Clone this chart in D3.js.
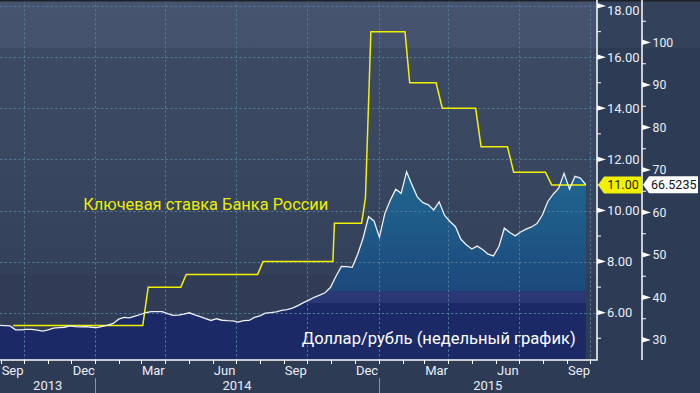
<!DOCTYPE html>
<html><head><meta charset="utf-8">
<script src="https://cdn.jsdelivr.net/npm/d3@7"></script>
<style>html,body{margin:0;padding:0;background:#2e3b55;} svg{display:block;}</style>
</head><body>
<svg id="c" width="700" height="393"></svg>
<script>
// ---------- data ----------
const firstWeek = "2013-08-30"; // weekly (Friday) observations
const usdRub = [
  33.45,33.4,33.3,32.4,32.4,32.5,32.5,32.3,32.1,32.4,
  32.8,32.9,33.0,33.3,33.15,33.1,33.15,33.0,32.9,33.2,
  33.5,33.9,34.9,35.3,35.2,35.6,36.0,36.45,36.7,36.7,
  36.7,36.2,35.8,35.85,36.1,36.4,35.9,35.5,35.05,34.6,
  35.0,34.65,34.55,34.5,34.2,34.55,34.6,35.3,35.7,36.3,
  36.45,36.6,36.95,37.15,37.5,38.1,38.8,39.4,40.05,40.55,
  41.1,42.4,45.0,47.3,47.25,47.1,50.2,54.0,59.0,58.0,
  54.2,59.8,62.9,65.45,64.5,69.6,66.5,63.6,62.3,61.8,
  60.6,62.5,59.3,57.9,56.65,53.7,52.4,51.4,52.1,51.3,
  50.2,49.8,52.0,56.3,55.3,54.5,55.4,56.1,56.6,57.4,
  59.4,62.6,64.3,65.7,69.2,65.5,68.5,68.1,66.5235
];
const rateDates = [
  "2013-09-17","2014-03-03","2014-03-10","2014-04-21","2014-04-28",
  "2014-07-29","2014-08-05","2014-11-03","2014-11-05","2014-12-10",
  "2014-12-15","2014-12-22","2015-02-04","2015-02-10","2015-03-16",
  "2015-03-24","2015-05-06","2015-05-13","2015-06-16","2015-06-24",
  "2015-08-04","2015-08-12","2015-09-25"
];
const rateValues = [
  5.5,5.5,7.0,7.0,7.5,
  7.5,8.0,8.0,9.5,9.5,
  10.5,17.0,17.0,15.0,15.0,
  14.0,14.0,12.5,12.5,11.5,
  11.5,11.0,11.0
];
const rateTicks = [6,8,10,12,14,16,18];
const rateMinorTicks = [5,7,9,11,13,15,17];
const usdTicks = [30,40,50,60,70,80,90,100];
const usdMinorTicks = [35,45,55,65,75,85,95,105];
const monthLabels = ["Sep","Dec","Mar","Jun","Sep","Dec","Mar","Jun","Sep"];
const yearLabels = ["2013","2014","2015"];
const lastRate = 11.00, lastRateText = "11.00";
const lastUsd = 66.5235, lastUsdText = "66.5235";
const rateTitle = "Ключевая ставка Банка России";
const usdTitle = "Доллар/рубль (недельный график)";

// ---------- layout ----------
const W = 700, H = 393;
const plotR = 597, plotB = 360, axis2X = 642;
const svg = d3.select("#c");
const parse = d3.utcParse("%Y-%m-%d");

const x = d3.scaleUtc()
  .domain([Date.UTC(2013,7,31), Date.UTC(2015,9,9,10)])
  .range([0, plotR]);
const yRate = d3.scaleLinear().domain([6,18]).range([312.7, 6.1]);
const yUsd = d3.scaleLinear().domain([30,100]).range([340, 42.5]);

const weeks = usdRub.map((v,i) => ({date: d3.utcDay.offset(parse(firstWeek), 7*i), v}));
const rates = rateDates.map((d,i) => ({date: parse(d), v: rateValues[i]}));

// ---------- defs ----------
const defs = svg.append("defs");
const bgGrad = defs.append("linearGradient").attr("id","bg")
  .attr("gradientUnits","userSpaceOnUse").attr("x1",0).attr("x2",0).attr("y1",0).attr("y2",plotB);
[[0,"#46546f"],[48,"#44526d"],[48,"#3d4a64"],[150,"#3a4761"],[230,"#36435c"],[275,"#34405a"],[275,"#313d57"],[360,"#303c56"]]
  .forEach(([o,c]) => bgGrad.append("stop").attr("offset", o/plotB).attr("stop-color", c));
const arGrad = defs.append("linearGradient").attr("id","ar")
  .attr("gradientUnits","userSpaceOnUse").attr("x1",0).attr("x2",0).attr("y1",0).attr("y2",plotB);
[[0,"#226d96"],[160,"#216892"],[200,"#1f608b"],[240,"#1e5786"],[260,"#1d5081"],[291,"#1d4a7c"],[291.5,"#2a3875"],[303,"#2a3875"],[303.5,"#1b2a66"],[360,"#1b2a66"]]
  .forEach(([o,c]) => arGrad.append("stop").attr("offset", o/plotB).attr("stop-color", c));

// ---------- backgrounds ----------
svg.append("rect").attr("width",W).attr("height",H).attr("fill","#2e3b55");
svg.append("rect").attr("x",plotR).attr("y",0).attr("width",W-plotR).attr("height",48).attr("fill","#34415b");
svg.append("rect").attr("x",0).attr("y",0).attr("width",plotR).attr("height",plotB).attr("fill","url(#bg)");

// area
svg.append("path").datum(weeks)
  .attr("d", d3.area().x(d => x(d.date)).y0(plotB).y1(d => yUsd(d.v)))
  .attr("fill","url(#ar)");

// gridlines
const grid = svg.append("g").attr("stroke","#4f7b98").attr("stroke-width",1).attr("stroke-dasharray","2.3,2.3");
rateTicks.forEach(t => grid.append("line").attr("x1",0).attr("x2",plotR)
  .attr("y1",Math.round(yRate(t))+0.5).attr("y2",Math.round(yRate(t))+0.5));
const months = d3.utcMonth.range(new Date(Date.UTC(2013,8,1)), new Date(Date.UTC(2015,9,2)));
const quarters = months.filter(m => m.getUTCMonth() % 3 === 0);
quarters.forEach(q => grid.append("line").attr("x1",Math.round(x(q))+0.5).attr("x2",Math.round(x(q))+0.5)
  .attr("y1",0).attr("y2",plotB));

// lines
svg.append("path").datum(rates)
  .attr("d", d3.line().x(d => x(d.date)).y(d => yRate(d.v)))
  .attr("fill","none").attr("stroke","#f2f200").attr("stroke-width",1.5);
svg.append("path").datum(weeks)
  .attr("d", d3.line().x(d => x(d.date)).y(d => yUsd(d.v)))
  .attr("fill","none").attr("stroke","#eef0f4").attr("stroke-width",1.3);

// top border
svg.append("rect").attr("x",0).attr("y",0).attr("width",W).attr("height",1.5).attr("fill","#1f2229");

// axes lines
const ax = svg.append("g").attr("stroke","#ffffff").attr("stroke-width",1.5);
ax.append("line").attr("x1",0).attr("x2",plotR+0.75).attr("y1",plotB).attr("y2",plotB);
ax.append("line").attr("x1",plotR).attr("x2",plotR).attr("y1",0).attr("y2",plotB);
ax.append("line").attr("x1",axis2X).attr("x2",axis2X).attr("y1",0).attr("y2",plotB);

// month ticks
months.forEach(m => ax.append("line").attr("x1",Math.round(x(m))+0.5).attr("x2",Math.round(x(m))+0.5)
  .attr("y1",plotB).attr("y2",plotB+4).attr("stroke-width",1));

// rate axis ticks
const font = "Roboto, 'Liberation Sans', sans-serif";
rateTicks.forEach(t => {
  const y = yRate(t);
  svg.append("path").attr("d", `M${plotR},${y-3}L${plotR+9},${y}L${plotR},${y+2.5}Z`).attr("fill","#ffffff");
  svg.append("text").attr("x",607).attr("y",Math.max(y,10)+4.6).text(t.toFixed(2))
    .attr("font-family",font).attr("font-size",13).attr("fill","#e9eef6");
});
rateMinorTicks.forEach(t => ax.append("line").attr("x1",plotR).attr("x2",plotR+4)
  .attr("y1",yRate(t)).attr("y2",yRate(t)).attr("stroke-width",1));

// usd axis ticks
usdTicks.forEach(t => {
  const y = yUsd(t);
  svg.append("path").attr("d", `M${axis2X},${y-3}L${axis2X+9},${y}L${axis2X},${y+2.5}Z`).attr("fill","#ffffff");
  svg.append("text").attr("x",652.5).attr("y",y+4.4).text(t)
    .attr("font-family",font).attr("font-size",12.3).attr("fill","#e9eef6");
});
usdMinorTicks.forEach(t => ax.append("line").attr("x1",axis2X).attr("x2",axis2X+4)
  .attr("y1",yUsd(t)).attr("y2",yUsd(t)).attr("stroke-width",1));

// month labels (right-aligned to next quarter boundary)
months.filter(m => m.getUTCMonth() % 3 === 2).forEach((m,i) => {
  const nxt = d3.utcMonth.offset(m,1);
  svg.append("text").attr("x", x(nxt)-0.5).attr("y",375).attr("text-anchor","end")
    .text(monthLabels[i]).attr("font-family",font).attr("font-size",13).attr("fill","#e9eef6");
});
// years
const yearStarts = [Date.UTC(2013,0,1),Date.UTC(2014,0,1),Date.UTC(2015,0,1),Date.UTC(2016,0,1)].map(d => new Date(d));
yearLabels.forEach((lab,i) => {
  const a = Math.max(0, x(yearStarts[i])), b = Math.min(plotR, x(yearStarts[i+1]));
  svg.append("text").attr("x",(a+b)/2).attr("y",390).attr("text-anchor","middle").text(lab)
    .attr("font-family",font).attr("font-size",13).attr("fill","#e9eef6");
  if (i > 0) svg.append("line").attr("x1",Math.round(a)+0.5).attr("x2",Math.round(a)+0.5)
    .attr("y1",378).attr("y2",H).attr("stroke","#8d929c").attr("stroke-width",1);
});

// last-value boxes
const yr = yRate(lastRate), yu = yUsd(lastUsd);
svg.append("path").attr("d",`M${plotR+1},${yr}L${plotR+7},${yr-8.5}L${axis2X-0.5},${yr-8.5}L${axis2X-0.5},${yr+8.5}L${plotR+7},${yr+8.5}Z`)
  .attr("fill","#f2f200");
svg.append("text").attr("x",(plotR+7+axis2X)/2).attr("y",yr+4.4).attr("text-anchor","middle").text(lastRateText)
  .attr("font-family",font).attr("font-size",12.5).attr("fill","#1c2410");
svg.append("path").attr("d",`M${axis2X+1},${yu}L${axis2X+7},${yu-8.5}L${698},${yu-8.5}L${698},${yu+8.5}L${axis2X+7},${yu+8.5}Z`)
  .attr("fill","#ffffff");
svg.append("text").attr("x",651).attr("y",yu+4.4).text(lastUsdText)
  .attr("font-family",font).attr("font-size",12.5).attr("fill","#111111");

// series titles
svg.append("text").attr("x",83.3).attr("y",209.5).text(rateTitle)
  .attr("font-family",font).attr("font-size",17).attr("fill","#eeee00")
  .attr("textLength",245).attr("lengthAdjust","spacingAndGlyphs");
svg.append("text").attr("x",301.7).attr("y",343.5).text(usdTitle)
  .attr("font-family",font).attr("font-size",17).attr("fill","#ffffff")
  .attr("textLength",274).attr("lengthAdjust","spacingAndGlyphs");
</script>
</body></html>
